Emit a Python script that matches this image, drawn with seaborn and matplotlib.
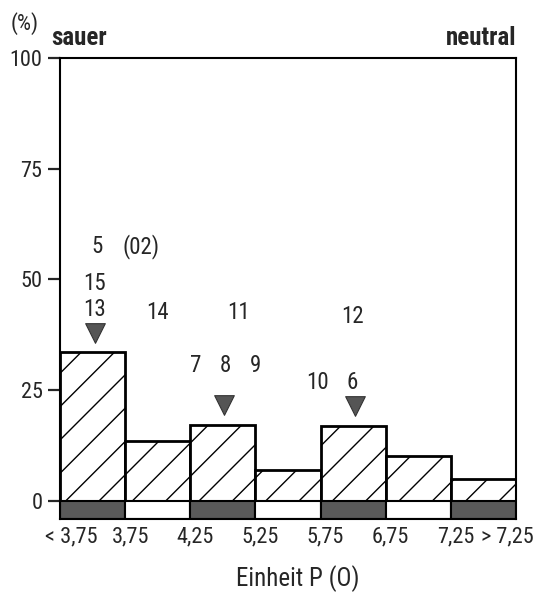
import matplotlib
matplotlib.use("Agg")
import matplotlib.pyplot as plt
import seaborn as sns
import pandas as pd

# ---- data ----
categories = ["< 3,75", "3,75–4,25", "4,25–5,25", "5,25–5,75", "5,75–6,75", "6,75–7,25", "> 7,25"]
percent = [33.5, 13.5, 17.0, 7.0, 16.8, 10.0, 5.0]
band_dark = [1, 0, 1, 0, 1, 0, 1]
xtick_labels = ["< 3,75", "3,75", "4,25", "5,25", "5,75", "6,75", "7,25", "> 7,25"]
yticks = [0, 25, 50, 75, 100]
ann_labels = ["5", "(02)", "15", "13", "14", "11", "7", "8", "9", "12", "10", "6"]
ann_x = [0.063, 0.743, 0.027, 0.027, 1.0, 2.237, 1.583, 2.044, 2.504, 3.987, 3.456, 3.993]
ann_y = [57.5, 57.5, 49.1, 43.1, 42.5, 42.5, 30.6, 30.6, 30.6, 41.7, 26.6, 26.6]
tri_x = [0.037, 2.022, 4.029]
tri_y = [37.8, 21.7, 21.3]

sns.set_style("white")
plt.rcParams["font.family"] = ["Roboto Condensed", "Liberation Sans", "DejaVu Sans"]
plt.rcParams["hatch.linewidth"] = 1.0

fig = plt.figure(figsize=(5.43, 5.94), dpi=100)
ax = fig.add_axes([60 / 543, 1 - 519 / 594, 456 / 543, 461 / 594])

df = pd.DataFrame({"cat": categories, "pct": percent})
sns.barplot(data=df, x="cat", y="pct", width=1.0, color="white",
            edgecolor="black", linewidth=2.0, saturation=1, ax=ax)
for p in ax.patches:
    p.set_hatch("/")
    p.set_facecolor("white")

band_depth = 4.14
ax.bar(range(len(categories)), [-band_depth] * len(categories), width=1.0,
       color=["#5a5a5a" if d else "white" for d in band_dark],
       edgecolor="black", linewidth=1.5, zorder=1)

sns.scatterplot(x=tri_x, y=tri_y, marker="v", s=200, color="#555555",
                edgecolor="#333333", linewidth=0.8, ax=ax, zorder=5)

for t, x, y in zip(ann_labels, ann_x, ann_y):
    ax.text(x, y, t, ha="center", va="center", fontsize=16.5)

ax.set_xlim(-0.5, len(categories) - 0.5)
ax.set_ylim(-band_depth, 100)
xt = [-0.32] + [i + 0.5 + 0.077 for i in range(6)] + [6.37]
ax.set_xticks(xt)
ax.set_xticklabels(xtick_labels, fontsize=16)
ax.tick_params(axis="x", length=0, pad=5)
ax.set_yticks(yticks)
ax.set_yticklabels([str(v) for v in yticks], fontsize=16)
ax.tick_params(axis="y", direction="out", length=8.6, width=1.6, pad=4, left=True)
ax.set_xlabel("")
ax.set_ylabel("")
for s in ax.spines.values():
    s.set_visible(True)
    s.set_linewidth(1.5)
    s.set_color("black")

fig.text(25 / 543, 1 - 24 / 594, "(%)", ha="center", va="center", fontsize=16)
fig.text(51 / 543, 1 - 45 / 594, "sauer", ha="left", va="baseline",
         fontsize=18, fontweight="bold")
fig.text(516 / 543, 1 - 45 / 594, "neutral", ha="right", va="baseline",
         fontsize=18, fontweight="bold")
fig.text(298 / 543, 1 - 579 / 594, "Einheit P (O)", ha="center", va="center", fontsize=18)

fig.savefig("out.png", dpi=100)
